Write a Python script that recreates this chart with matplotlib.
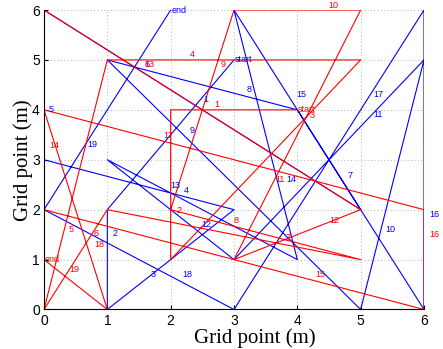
import matplotlib.pyplot as plt

# Two robot paths on a 7x7 grid; each move is numbered near its segment.
BLUE_X = [3, 1, 1, 3, 0, 0, 5, 4, 1, 5, 6, 3, 1, 4, 3, 6, 6, 3, 0, 2]
BLUE_Y = [5, 2, 0, 2, 3, 6, 2, 4, 5, 0, 5, 1, 3, 1, 6, 0, 6, 0, 2, 6]
RED_X = [4, 2, 2, 5, 1, 0, 1, 5, 2, 3, 5, 3, 5, 0, 0, 6, 6, 0, 1, 0]
RED_Y = [4, 4, 1, 5, 5, 0, 2, 1, 2, 6, 6, 1, 2, 6, 2, 0, 2, 4, 0, 1]

# where each step number sits (data units)
BLUE_LABEL_X = [2.55, 1.13, 1.72, 2.24, 0.12, 1.62, 4.83, 3.24, 2.34, 5.47,
                5.28, 2.56, 2.07, 3.90, 4.07, 6.17, 5.28, 2.27, 0.77]
BLUE_LABEL_Y = [4.20, 1.52, 0.71, 2.39, 4.00, 4.90, 2.69, 4.41, 3.59, 1.60,
                3.90, 1.71, 2.48, 2.60, 4.30, 1.90, 4.30, 0.71, 3.30]
RED_LABEL_X = [2.73, 2.13, 4.23, 2.34, 0.43, 0.83, 3.85, 3.03, 2.83, 4.57,
               3.72, 4.58, 1.66, 0.17, 4.37, 6.17, 1.96, 0.88, 0.48]
RED_LABEL_Y = [4.10, 1.99, 3.89, 5.10, 1.60, 1.52, 1.45, 1.79, 4.90, 6.10,
               2.60, 1.79, 4.90, 3.29, 0.71, 1.50, 3.49, 1.30, 0.80]
TICKS = [0, 1, 2, 3, 4, 5, 6]

plt.rcParams["font.family"] = ["Liberation Sans", "DejaVu Sans"]


def draw_path(axis, xs, ys, label_xs, label_ys, color):
    """Draw one path with its step numbers and start/end tags."""
    axis.plot(xs, ys, color=color, linewidth=0.8)
    for k, (lx, ly) in enumerate(zip(label_xs, label_ys)):
        axis.text(lx, ly, str(k + 1), color=color, fontsize=6.5,
                  ha="center", va="center")
    axis.text(xs[0] + 0.01, ys[0], "start", color=color, fontsize=6.5,
              ha="left", va="center")
    axis.text(xs[-1] + 0.01, ys[-1], "end", color=color, fontsize=6.5,
              ha="left", va="center")


fig = plt.figure(figsize=(4.43, 3.49), dpi=100)
ax = fig.add_axes([0.0993, 0.1132, 0.8578, 0.8581])

draw_path(ax, BLUE_X, BLUE_Y, BLUE_LABEL_X, BLUE_LABEL_Y, "#0000ff")
draw_path(ax, RED_X, RED_Y, RED_LABEL_X, RED_LABEL_Y, "#ff0000")

ax.set_xlim(0, 6)
ax.set_ylim(0, 6)
ax.set_xticks(TICKS)
ax.set_yticks(TICKS)
ax.grid(True, linestyle=(0, (1, 3)), color="#999999", linewidth=0.6)
ax.set_axisbelow(True)
ax.spines["top"].set_visible(False)
ax.spines["right"].set_visible(False)
ax.tick_params(direction="in", length=3, labelsize=10, pad=3)

ax.set_xlabel("Grid point (m)", family="Liberation Serif", fontsize=15)
ax.set_ylabel("Grid point (m)", family="Liberation Serif", fontsize=15)
ax.xaxis.set_label_coords(0.555, -0.062)
ax.yaxis.set_label_coords(-0.03, 0.5)

fig.savefig("out.png", dpi=100)
